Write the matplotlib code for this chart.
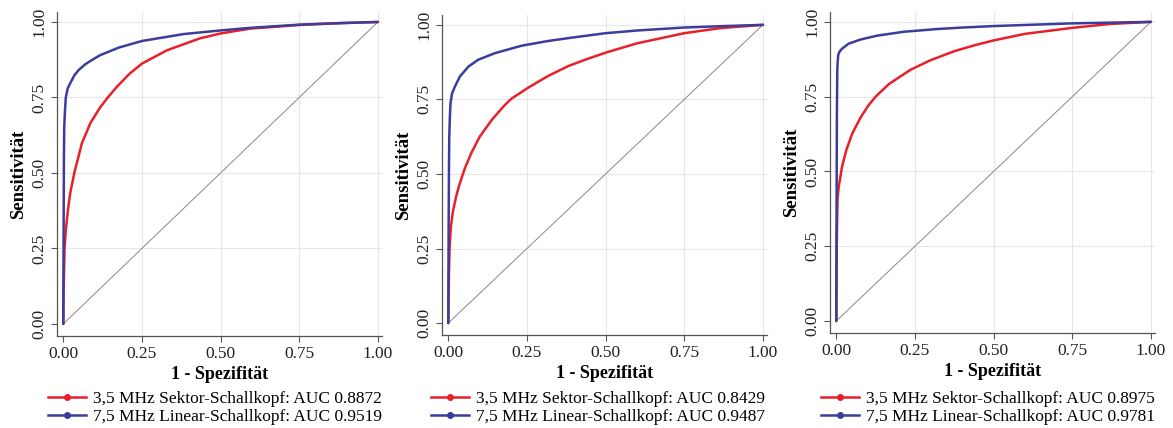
import matplotlib
matplotlib.use("Agg")
import matplotlib.pyplot as plt
from matplotlib.lines import Line2D

# ---- data ----
labels_red = ["3,5 MHz Sektor-Schallkopf: AUC 0.8872",
              "3,5 MHz Sektor-Schallkopf: AUC 0.8429",
              "3,5 MHz Sektor-Schallkopf: AUC 0.8975"]
labels_blue = ["7,5 MHz Linear-Schallkopf: AUC 0.9519",
               "7,5 MHz Linear-Schallkopf: AUC 0.9487",
               "7,5 MHz Linear-Schallkopf: AUC 0.9781"]

fpr1_red = [0, 0.001, 0.002, 0.004, 0.008, 0.015, 0.022, 0.035, 0.059, 0.086, 0.117, 0.14, 0.17,
            0.21, 0.25, 0.329, 0.435, 0.5, 0.594, 0.75, 0.87, 1.0]
tpr1_red = [0, 0.10, 0.157, 0.25, 0.31, 0.38, 0.433, 0.50, 0.598, 0.665, 0.717, 0.748, 0.785,
            0.828, 0.862, 0.906, 0.946, 0.962, 0.978, 0.99, 0.996, 1.0]
fpr1_blue = [0, 0.001, 0.002, 0.003, 0.005, 0.008, 0.014, 0.022, 0.035, 0.049, 0.07, 0.091, 0.117,
             0.176, 0.25, 0.383, 0.5, 0.6, 0.75, 0.88, 1.0]
tpr1_blue = [0, 0.30, 0.55, 0.65, 0.70, 0.75, 0.78, 0.797, 0.823, 0.841, 0.86, 0.874, 0.89,
             0.915, 0.937, 0.96, 0.972, 0.981, 0.991, 0.996, 1.0]

fpr2_red = [0, 0.001, 0.002, 0.004, 0.008, 0.014, 0.024, 0.034, 0.053, 0.074, 0.1, 0.138, 0.175,
            0.2, 0.255, 0.318, 0.382, 0.44, 0.504, 0.6, 0.75, 0.864, 1.0]
tpr2_red = [0, 0.09, 0.16, 0.25, 0.32, 0.37, 0.42, 0.46, 0.52, 0.572, 0.625, 0.681, 0.726,
            0.752, 0.79, 0.829, 0.862, 0.885, 0.908, 0.938, 0.972, 0.989, 1.0]
fpr2_blue = [0, 0.001, 0.002, 0.003, 0.005, 0.007, 0.012, 0.021, 0.037, 0.064, 0.095, 0.148, 0.233,
             0.318, 0.392, 0.5, 0.6, 0.75, 0.88, 1.0]
tpr2_blue = [0, 0.30, 0.50, 0.62, 0.69, 0.737, 0.77, 0.793, 0.827, 0.86, 0.883, 0.905, 0.93,
             0.946, 0.957, 0.972, 0.981, 0.991, 0.996, 1.0]

fpr3_red = [0, 0.001, 0.002, 0.004, 0.008, 0.018, 0.032, 0.05, 0.077, 0.103, 0.125, 0.167, 0.236,
            0.30, 0.375, 0.44, 0.5, 0.6, 0.75, 0.87, 1.0]
tpr3_red = [0, 0.20, 0.30, 0.41, 0.45, 0.515, 0.572, 0.625, 0.68, 0.722, 0.75, 0.792, 0.84,
            0.872, 0.902, 0.922, 0.938, 0.96, 0.98, 0.993, 1.0]
fpr3_blue = [0, 0.001, 0.002, 0.003, 0.004, 0.006, 0.01, 0.018, 0.039, 0.077, 0.13, 0.215, 0.32,
             0.4, 0.5, 0.75, 1.0]
tpr3_blue = [0, 0.40, 0.70, 0.83, 0.86, 0.888, 0.90, 0.91, 0.927, 0.941, 0.954, 0.967, 0.976,
             0.981, 0.986, 0.995, 1.0]

panels = [
    (fpr1_red, tpr1_red, fpr1_blue, tpr1_blue),
    (fpr2_red, tpr2_red, fpr2_blue, tpr2_blue),
    (fpr3_red, tpr3_red, fpr3_blue, tpr3_blue),
]
ticks = [0.0, 0.25, 0.5, 0.75, 1.0]
tick_labels = ["0.00", "0.25", "0.50", "0.75", "1.00"]

RED = "#e8202a"
BLUE = "#3c3c9c"
SERIF = ["Liberation Serif", "DejaVu Serif"]

W, H = 1173, 428
fig = plt.figure(figsize=(W / 100, H / 100), dpi=100)

lefts = [57, 442, 830]
tops = [12, 15, 12]
bottoms = [336, 335, 333]
width = 325
leg_x = [48, 431, 821]

for i, (fr, tr, fb, tb) in enumerate(panels):
    ax = fig.add_axes([lefts[i] / W, 1 - bottoms[i] / H, width / W, (bottoms[i] - tops[i]) / H])
    ax.set_xlim(-0.02, 1.013)
    ax.set_ylim(-0.04, 1.033)
    for t in ticks[1:]:
        ax.axhline(t, color="#e6e6e6", lw=0.8, zorder=0)
        ax.axvline(t, color="#e6e6e6", lw=0.8, zorder=0)
    ax.plot([0, 1], [0, 1], color="#888888", lw=0.7, zorder=1)
    ax.plot(fr, tr, color=RED, lw=1.8, zorder=3, solid_joinstyle="round", solid_capstyle="round")
    ax.plot(fb, tb, color=BLUE, lw=1.8, zorder=4, solid_joinstyle="round", solid_capstyle="round")
    for s in ["top", "right"]:
        ax.spines[s].set_visible(False)
    for s in ["left", "bottom"]:
        ax.spines[s].set_color("#555555")
        ax.spines[s].set_linewidth(0.9)
    ax.set_xticks(ticks)
    ax.set_yticks(ticks)
    ax.set_xticklabels(tick_labels, family=SERIF, fontsize=12.5, color="#222222")
    ax.set_yticklabels(tick_labels, family=SERIF, fontsize=12.5, color="#222222",
                       rotation=90, va="center")
    ax.tick_params(direction="out", length=4, width=0.8, color="#555555", pad=3)
    ax.set_xlabel("1 - Spezifität", family=SERIF, fontsize=13, fontweight="bold", labelpad=3)
    ax.set_ylabel("Sensitivität", family=SERIF, fontsize=13.5, fontweight="bold", labelpad=3)
    handles = [Line2D([], [], color=RED, lw=1.8, marker="o", ms=4),
               Line2D([], [], color=BLUE, lw=1.8, marker="o", ms=4)]
    ax.legend(handles, [labels_red[i], labels_blue[i]], loc="upper left",
              bbox_to_anchor=(leg_x[i] / W, 1 - 391 / H), bbox_transform=fig.transFigure,
              frameon=False, prop={"family": SERIF, "size": 12.5},
              handlelength=2.2, handletextpad=0.4, labelspacing=0.08, borderpad=0, borderaxespad=0)

fig.savefig("out.png", dpi=100)
